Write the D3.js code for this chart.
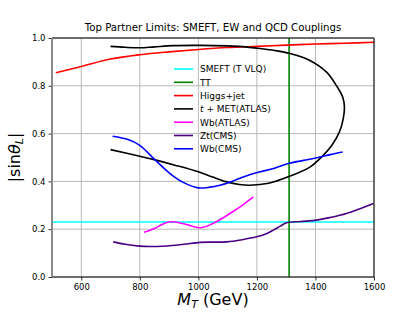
<!DOCTYPE html>
<html><head><meta charset="utf-8">
<script src="https://cdn.jsdelivr.net/npm/d3@7"></script>
<style>body{margin:0;background:#fff}svg{display:block}text{font-family:"DejaVu Sans",sans-serif}</style>
</head><body><svg id="c" width="416" height="312"></svg>
<script>
const xTicks=[600,800,1000,1200,1400,1600];
const yTicks=[0.0,0.2,0.4,0.6,0.8,1.0];
const smeftValue=0.23;
const ttMass=1310;
const higgsJet=[[513,0.855],[600,0.881],[700,0.912],[800,0.93],[900,0.942],[1000,0.952],[1100,0.96],[1200,0.965],[1300,0.97],[1400,0.975],[1500,0.978],[1600,0.982]];
const tMetAtlas=[[700,0.533],[800,0.505],[852,0.49],[920,0.468],[1000,0.44],[1050,0.418],[1097,0.398],[1140,0.387],[1176,0.384],[1240,0.392],[1307,0.419],[1381,0.46],[1416,0.496],[1456,0.551],[1482,0.607],[1495,0.663],[1499,0.711],[1493,0.753],[1472,0.80],[1438,0.857],[1381,0.906],[1313,0.935],[1260,0.948],[1211,0.956],[1150,0.964],[1100,0.967],[1005,0.969],[914,0.968],[850,0.963],[800,0.959],[750,0.961],[700,0.965]];
const wbAtlas=[[814,0.187],[850,0.203],[880,0.222],[903,0.231],[950,0.223],[1006,0.206],[1050,0.224],[1085,0.248],[1120,0.275],[1150,0.30],[1188,0.335]];
const ztCms=[[709,0.147],[750,0.137],[800,0.129],[891,0.13],[950,0.137],[1006,0.145],[1050,0.146],[1097,0.147],[1150,0.156],[1199,0.168],[1230,0.18],[1256,0.196],[1280,0.213],[1302,0.227],[1350,0.232],[1404,0.238],[1450,0.249],[1506,0.266],[1550,0.285],[1598,0.308]];
const wbCms=[[707,0.589],[760,0.575],[800,0.551],[852,0.49],[903,0.433],[950,0.395],[1000,0.373],[1040,0.376],[1074,0.384],[1100,0.393],[1142,0.413],[1180,0.43],[1211,0.44],[1260,0.455],[1307,0.475],[1360,0.488],[1416,0.502],[1450,0.512],[1493,0.523]];
const legendLabels=["SMEFT (T VLQ)","TT","Higgs+jet","t + MET(ATLAS)","Wb(ATLAS)","Zt(CMS)","Wb(CMS)"];
const colors=["#00ffff","#008000","#ff0000","#000000","#ff00ff","#4b0082","#0000ff"];

const L=52,R=374,T=38,B=277;
const svg=d3.select("#c");
const x=d3.scaleLinear().domain([500,1600]).range([L,R]);
const y=d3.scaleLinear().domain([0,1]).range([B,T]);
svg.append("defs").append("clipPath").attr("id","pc").append("rect").attr("x",L).attr("y",T).attr("width",R-L).attr("height",B-T);

// grid
const g=svg.append("g");
g.selectAll(".gx").data([500].concat(xTicks)).enter().append("line")
 .attr("x1",d=>x(d)).attr("x2",d=>x(d)).attr("y1",T).attr("y2",B).attr("stroke","#b0b0b0").attr("stroke-width",0.9);
g.selectAll(".gy").data(yTicks).enter().append("line")
 .attr("x1",L).attr("x2",R).attr("y1",d=>y(d)).attr("y2",d=>y(d)).attr("stroke","#b0b0b0").attr("stroke-width",0.9);

const plot=svg.append("g").attr("clip-path","url(#pc)");
const lineC=d3.line().x(d=>x(d[0])).y(d=>y(d[1])).curve(d3.curveCatmullRom.alpha(0.5));
plot.append("line").attr("x1",L).attr("x2",R).attr("y1",y(smeftValue)).attr("y2",y(smeftValue)).attr("stroke",colors[0]).attr("stroke-width",1.6);
plot.append("line").attr("x1",x(ttMass)).attr("x2",x(ttMass)).attr("y1",T).attr("y2",B).attr("stroke",colors[1]).attr("stroke-width",1.6);
[[higgsJet,2],[tMetAtlas,3],[wbAtlas,4],[ztCms,5],[wbCms,6]].forEach(([d,i])=>{
 plot.append("path").attr("d",lineC(d)).attr("fill","none").attr("stroke",colors[i]).attr("stroke-width",1.6);
});

// axes
const xa=svg.append("g").attr("transform",`translate(0,${B})`).call(d3.axisBottom(x).tickValues(xTicks).tickSize(3.5).tickPadding(3).tickFormat(d3.format("d")));
const ya=svg.append("g").attr("transform",`translate(${L},0)`).call(d3.axisLeft(y).tickValues(yTicks).tickSize(3.5).tickPadding(3).tickFormat(d3.format(".1f")));
[xa,ya].forEach(a=>{a.select(".domain").remove();a.selectAll("text").attr("font-size","8.5px").attr("font-family","DejaVu Sans").attr("fill","#000");a.selectAll("line").attr("stroke","#000").attr("stroke-width",0.8);});
// spines
svg.append("line").attr("x1",L).attr("x2",R).attr("y1",T).attr("y2",T).attr("stroke","#000").attr("stroke-width",1);
svg.append("line").attr("x1",R).attr("x2",R).attr("y1",T).attr("y2",B).attr("stroke","#000").attr("stroke-width",1);
svg.append("line").attr("x1",L).attr("x2",R).attr("y1",B).attr("y2",B).attr("stroke","#000").attr("stroke-width",1);
svg.append("line").attr("x1",L).attr("x2",L).attr("y1",T).attr("y2",B).attr("stroke","#808080").attr("stroke-width",1.8);

// title
svg.append("text").attr("x",(L+R)/2).attr("y",31).attr("text-anchor","middle").attr("font-size","10.2px").text("Top Partner Limits: SMEFT, EW and QCD Couplings");

// x label
const xl=svg.append("text").attr("x",(L+R)/2).attr("y",305).attr("text-anchor","middle").attr("font-size","16px");
xl.append("tspan").attr("font-style","italic").text("M");
xl.append("tspan").attr("font-style","italic").attr("font-size","11px").attr("dy",3).text("T");
xl.append("tspan").attr("dy",-3).text(" (GeV)");
// y label
const yl=svg.append("text").attr("transform",`translate(20,${(T+B)/2}) rotate(-90)`).attr("text-anchor","middle").attr("font-size","16px");
yl.append("tspan").text("|sin");
yl.append("tspan").attr("font-style","italic").text("θ");
yl.append("tspan").attr("font-style","italic").attr("font-size","11px").attr("dy",3).text("L");
yl.append("tspan").attr("dy",-3).text("|");

// legend
const lg=svg.append("g");
legendLabels.forEach((lab,i)=>{
 const yy=69+i*13.3;
 lg.append("line").attr("x1",174).attr("x2",193).attr("y1",yy).attr("y2",yy).attr("stroke",colors[i]).attr("stroke-width",1.6);
 const t=lg.append("text").attr("x",200).attr("y",yy+3.3).attr("font-size","9px");
 if(i===3){t.append("tspan").attr("font-style","italic").text("t");t.append("tspan").text(" + MET(ATLAS)");}
 else t.text(lab);
});
</script></body></html>
